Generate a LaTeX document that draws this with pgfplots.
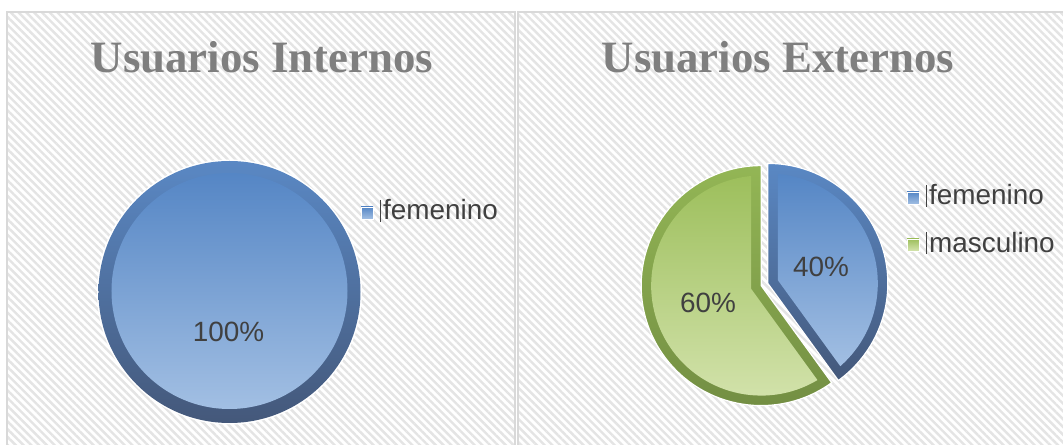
\documentclass[border=0pt]{standalone}
\usepackage{pgfplots}
\pgfplotsset{compat=1.18}
\usepackage{pgfplotstable}
\usepackage{fontspec}
\setmainfont{Liberation Serif}
\newfontfamily\arialf{Liberation Sans}
\usetikzlibrary{patterns.meta,calc}

\definecolor{titlegray}{HTML}{7F7F7F}
\definecolor{txt}{HTML}{404040}
\definecolor{hatch}{HTML}{E4E4E4}
\definecolor{frame}{HTML}{D9D9D9}
\definecolor{ringB1}{HTML}{5A88C4}
\definecolor{ringB2}{HTML}{44587A}
\definecolor{inB1}{HTML}{5586C5}
\definecolor{inB2}{HTML}{A2BFE3}
\definecolor{ringG1}{HTML}{93B655}
\definecolor{ringG2}{HTML}{718C42}
\definecolor{inG1}{HTML}{9DBF5C}
\definecolor{inG2}{HTML}{D5E4AF}

\pgfplotstableread{
label value
femenino 100
}\internos
\pgfplotstableread{
label value
femenino 40
masculino 60
}\externos

\pgfplotstablegetelem{0}{value}\of\externos \let\vFem\pgfplotsretval
\pgfplotstablegetelem{1}{value}\of\externos \let\vMas\pgfplotsretval
\pgfmathsetmacro\angSplit{90-360*\vFem/(\vFem+\vMas)}
\pgfmathsetmacro\angEnd{90-360}
\pgfmathsetmacro\bisB{(90+\angSplit)/2}
\pgfmathsetmacro\bisG{(\angSplit+\angEnd)/2}
\pgfmathsetmacro\cBx{764.5+3.5*cos(\bisB)}
\pgfmathsetmacro\cBy{160.5+3.5*sin(\bisB)}
\pgfmathsetmacro\cGx{764.5+3.5*cos(\bisG)}
\pgfmathsetmacro\cGy{160.5+3.5*sin(\bisG)}
\pgfmathsetmacro\dl{asin(10/110)}
\pgfmathsetmacro\sB{10/sin((90-\angSplit)/2)}
\pgfmathsetmacro\sG{10/sin((\angSplit-\angEnd)/2)}
\pgfmathsetmacro\bAs{90-\dl}
\pgfmathsetmacro\bAe{\angSplit+\dl}
\pgfmathsetmacro\gAs{\angSplit-\dl}
\pgfmathsetmacro\gAe{\angEnd+\dl}

\begin{document}
\begin{tikzpicture}
\begin{axis}[at={(0,0)}, anchor=south west, scale only axis,
  width=1063bp, height=445bp, xmin=0, xmax=1063, ymin=0, ymax=445,
  hide axis, clip=true]
% panels
\fill[white] (axis cs:0,0) rectangle (axis cs:1063,445);
\fill[pattern={Lines[angle=-45,distance=5.5bp,line width=2.4bp]}, pattern color=hatch]
  (axis cs:7,0) rectangle (axis cs:515,433);
\fill[pattern={Lines[angle=-45,distance=5.5bp,line width=2.4bp]}, pattern color=hatch]
  (axis cs:518,0) rectangle (axis cs:1063,433);
\draw[frame, line width=1.5bp] (axis cs:7,0) -- (axis cs:7,433) -- (axis cs:515,433) -- (axis cs:515,0);
\draw[frame, line width=1.5bp] (axis cs:518,0) -- (axis cs:518,433) -- (axis cs:1063,433);
% titles
\node[anchor=base, font=\bfseries\fontsize{45}{50}\selectfont, text=titlegray] at (axis cs:262,372) {Usuarios Internos};
\node[anchor=base, font=\bfseries\fontsize{45}{50}\selectfont, text=titlegray] at (axis cs:778,372) {Usuarios Externos};
% left pie (100%)
\fill[white] (axis cs:229.5,153) circle[radius=132.5bp];
\shade[top color=ringB1, bottom color=ringB2] (axis cs:229.5,153) circle[radius=131bp];
\shade[top color=inB1, bottom color=inB2] (axis cs:229.5,154) circle[radius=118bp];
\node[anchor=base, font=\arialf\fontsize{28}{30}\selectfont, text=txt] at (axis cs:228.5,103) {100\%};
% right pie: femenino
\shade[top color=ringB1, bottom color=ringB2, draw=white, line width=1.2bp]
  (axis cs:\cBx,\cBy) -- ($(axis cs:\cBx,\cBy)+(90:120bp)$) arc[start angle=90, end angle=\angSplit, radius=120bp] -- cycle;
\shade[top color=inB1, bottom color=inB2]
  ($(axis cs:\cBx,\cBy)+(\bAs:110bp)$) arc[start angle=\bAs, end angle=\bAe, radius=110bp]
  -- ($(axis cs:\cBx,\cBy)+(\bisB:\sB bp)$) -- cycle;
% right pie: masculino
\shade[top color=ringG1, bottom color=ringG2, draw=white, line width=1.2bp]
  (axis cs:\cGx,\cGy) -- ($(axis cs:\cGx,\cGy)+(\angSplit:120bp)$) arc[start angle=\angSplit, end angle=\angEnd, radius=120bp] -- cycle;
\shade[top color=inG1, bottom color=inG2]
  ($(axis cs:\cGx,\cGy)+(\gAs:110bp)$) arc[start angle=\gAs, end angle=\gAe, radius=110bp]
  -- ($(axis cs:\cGx,\cGy)+(\bisG:\sG bp)$) -- cycle;
\node[anchor=base, font=\arialf\fontsize{28}{30}\selectfont, text=txt] at (axis cs:821,168) {40\%};
\node[anchor=base, font=\arialf\fontsize{28}{30}\selectfont, text=txt] at (axis cs:708,132) {60\%};
% legends
\shade[top color=inB1, bottom color=inB2, draw=white, line width=0.8bp] (axis cs:361,238) rectangle (axis cs:373,226);
\draw[txt, line width=0.8bp] (axis cs:380,245) -- (axis cs:380,223);
\node[anchor=base west, inner sep=0pt, font=\arialf\fontsize{28}{30}\selectfont, text=txt] at (axis cs:383,225) {femenino};
\shade[top color=inB1, bottom color=inB2, draw=white, line width=0.8bp] (axis cs:907,253) rectangle (axis cs:919,241);
\draw[txt, line width=0.8bp] (axis cs:926,260) -- (axis cs:926,238);
\node[anchor=base west, inner sep=0pt, font=\arialf\fontsize{28}{30}\selectfont, text=txt] at (axis cs:929,240) {femenino};
\shade[top color=inG1, bottom color=inG2, draw=white, line width=0.8bp] (axis cs:907,206) rectangle (axis cs:919,194);
\draw[txt, line width=0.8bp] (axis cs:926,213) -- (axis cs:926,191);
\node[anchor=base west, inner sep=0pt, font=\arialf\fontsize{28}{30}\selectfont, text=txt] at (axis cs:929,192) {masculino};
\end{axis}
\pgfresetboundingbox
\useasboundingbox (0,0) rectangle (1063bp,445bp);
\end{tikzpicture}
\end{document}
